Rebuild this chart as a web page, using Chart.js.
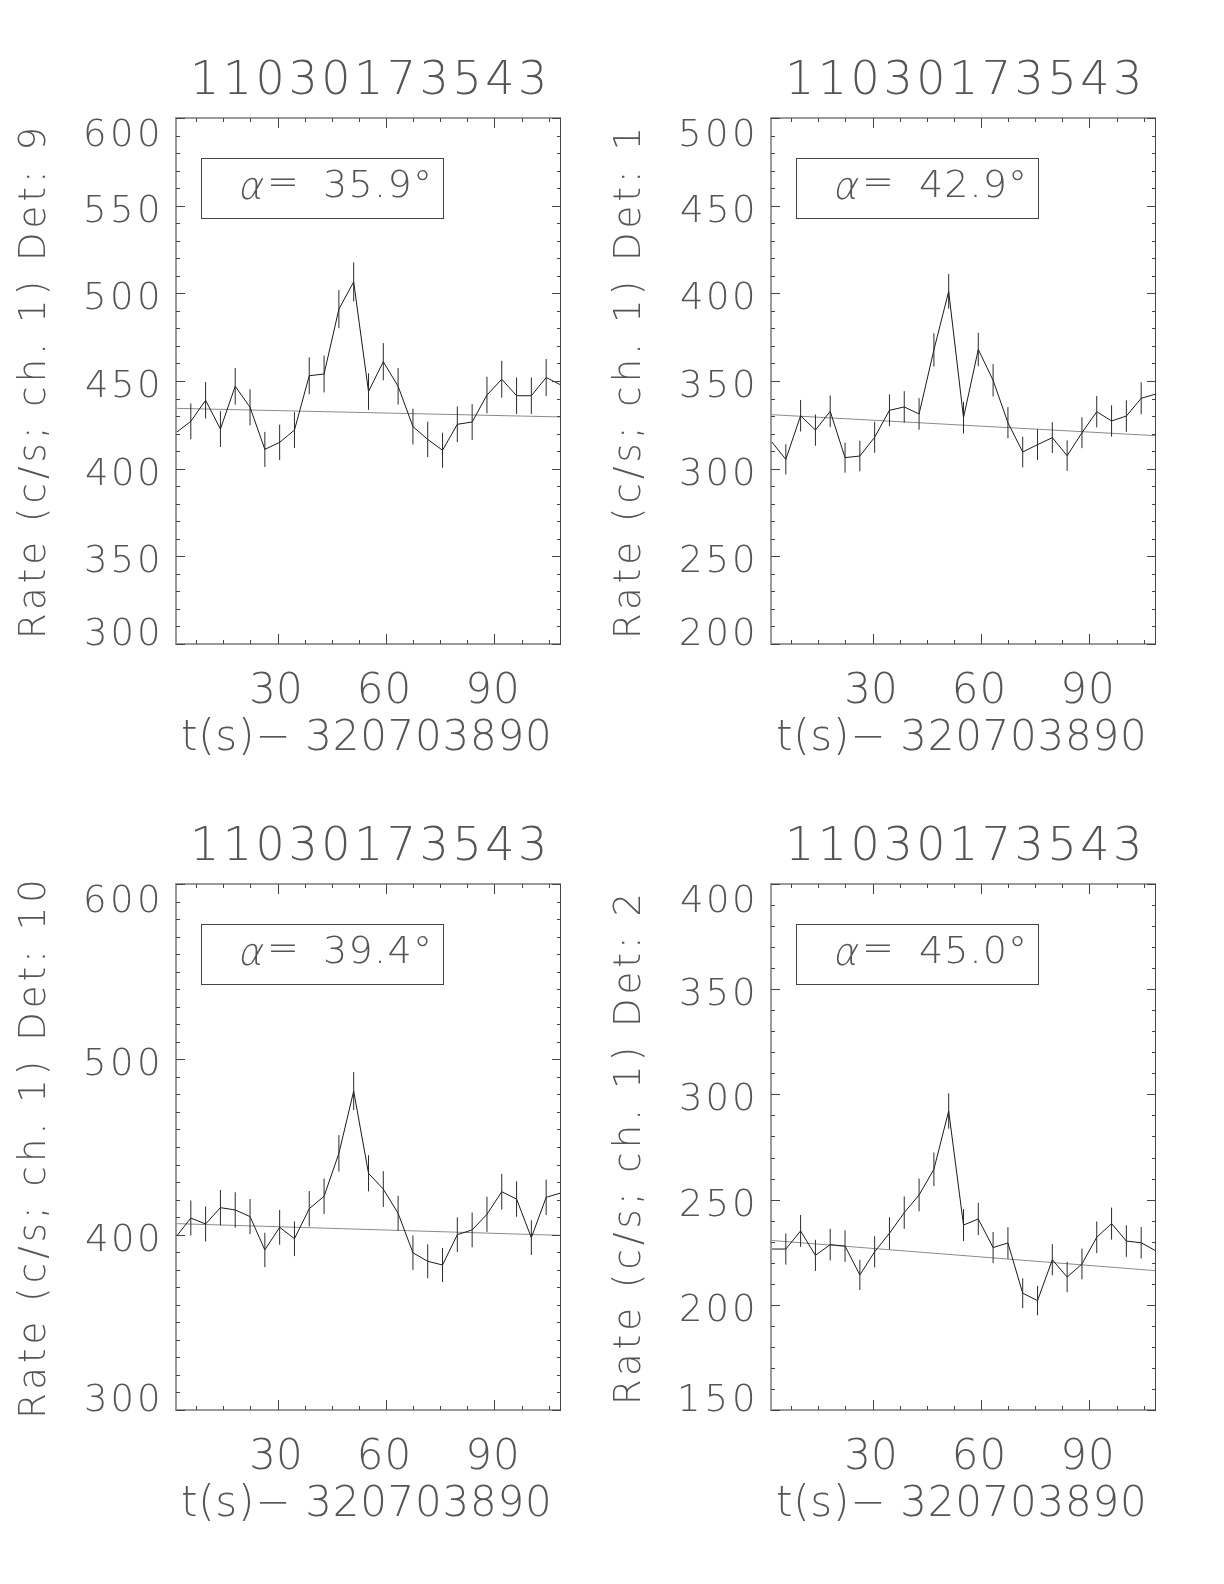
<!DOCTYPE html>
<html>
<head>
<meta charset="utf-8">
<script src="https://cdn.jsdelivr.net/npm/chart.js@4.4.1/dist/chart.umd.min.js"></script>
<style>
  html, body { margin: 0; padding: 0; background: #fff; }
  #wrap { position: relative; width: 1224px; height: 1584px; overflow: hidden; }
  .panel { position: absolute; width: 600px; height: 766px; }
</style>
</head>
<body>
<div id="wrap">
  <div class="panel" style="left:0;top:0"><canvas id="det9" width="600" height="766"></canvas></div>
  <div class="panel" style="left:595px;top:0"><canvas id="det1" width="600" height="766"></canvas></div>
  <div class="panel" style="left:0;top:766px"><canvas id="det10" width="600" height="766"></canvas></div>
  <div class="panel" style="left:595px;top:766px"><canvas id="det2" width="600" height="766"></canvas></div>
</div>
<script>
// time bins, seconds after 320703890
const times = [1.90, 6.00, 10.09, 14.19, 18.28, 22.38, 26.48, 30.57, 34.67, 38.76,
               42.86, 46.96, 51.05, 55.15, 59.24, 63.34, 67.44, 71.53, 75.63, 79.72,
               83.82, 87.92, 92.01, 96.11, 100.20, 104.30, 108.40];
const xTickLabels = [30, 60, 90];

// Det 9
const det9Rate = [420.5, 427.0, 439.0, 422.6, 447.0, 435.0, 411.0, 415.0, 422.0, 453.0,
                  454.0, 491.0, 506.5, 444.0, 461.0, 447.0, 424.0, 416.7, 410.5, 425.3,
                  426.6, 442.0, 451.0, 441.6, 441.6, 452.0, 447.7];
const det9Err = [10.1, 10.2, 10.4, 10.2, 10.4, 10.3, 10.0, 10.1, 10.2, 10.5,
                 10.5, 10.9, 11.1, 10.4, 10.6, 10.4, 10.2, 10.1, 10.0, 10.2,
                 10.2, 10.4, 10.5, 10.4, 10.4, 10.5, 10.5];
const det9Bkg = [434.4, 429.5];
const det9YTicks = [300, 350, 400, 450, 500, 550, 600];

// Det 1
const det1Rate = [315.8, 305.3, 330.2, 322.0, 332.7, 306.3, 307.2, 317.9, 333.3, 335.2,
                  331.2, 367.7, 401.1, 329.1, 368.0, 350.4, 326.2, 309.5, 313.7, 317.7,
                  307.4, 320.5, 332.5, 327.2, 330.0, 340.1, 342.6];
const det1Err = [8.8, 8.6, 9.0, 8.9, 9.0, 8.6, 8.7, 8.8, 9.0, 9.0,
                 9.0, 9.5, 9.9, 9.0, 9.5, 9.2, 8.9, 8.7, 8.8, 8.8,
                 8.7, 8.8, 9.0, 8.9, 9.0, 9.1, 9.1];
const det1Bkg = [330.8, 318.8];
const det1YTicks = [200, 250, 300, 350, 400, 450, 500];

// Det 10
const det10Rate = [398.7, 409.5, 406.1, 415.4, 414.1, 410.3, 391.3, 404.2, 397.7, 414.8,
                   421.9, 446.4, 481.9, 435.0, 426.0, 412.2, 389.7, 384.8, 382.7, 400.0,
                   402.7, 411.6, 424.5, 420.3, 398.3, 421.3, 423.8];
const det10Err = [9.9, 10.0, 10.0, 10.1, 10.1, 10.0, 9.8, 9.9, 9.9, 10.1,
                  10.1, 10.4, 10.8, 10.3, 10.2, 10.0, 9.8, 9.7, 9.7, 9.9,
                  9.9, 10.0, 10.2, 10.1, 9.9, 10.1, 10.2];
const det10Bkg = [406.3, 399.6];
const det10YTicks = [300, 400, 500, 600];

// Det 2
const det2Rate = [226.5, 226.5, 235.1, 223.5, 228.6, 227.9, 214.2, 225.2, 234.0, 243.8,
                  252.2, 264.4, 292.1, 237.9, 240.8, 227.2, 229.4, 205.5, 202.0, 221.4,
                  213.2, 219.4, 232.1, 238.6, 230.3, 229.5, 225.6];
const det2Err = [7.4, 7.4, 7.6, 7.4, 7.5, 7.5, 7.2, 7.4, 7.6, 7.7,
                 7.8, 8.0, 8.4, 7.6, 7.7, 7.4, 7.5, 7.1, 7.0, 7.4,
                 7.2, 7.3, 7.5, 7.6, 7.5, 7.5, 7.4];
const det2Bkg = [230.6, 216.2];
const det2YTicks = [150, 200, 250, 300, 350, 400];

const title = '11030173543';
const xTitle = 't(s)\u2212 320703890';
const FONT = '"DejaVu Sans", sans-serif';
const TEXT = '#555';

// draw text so that its ink starts at x and spans the given width
function spreadText(ctx, text, x, y, width) {
  ctx.letterSpacing = '0px';
  const m = ctx.measureText(text);
  const ink = m.actualBoundingBoxLeft + m.actualBoundingBoxRight;
  const n = [...text].length;
  ctx.letterSpacing = (n > 1 ? (width - ink) / (n - 1) : 0) + 'px';
  ctx.textAlign = 'left';
  ctx.fillText(text, x + m.actualBoundingBoxLeft, y);
  ctx.letterSpacing = '0px';
}

function makeAxesPlugin(p) {
  return {
    id: 'idlAxes',
    afterDatasetsDraw(chart) {
      const ctx = chart.ctx;
      const a = chart.chartArea;
      const xs = chart.scales.x, ys = chart.scales.y;

      // error bars
      ctx.save();
      ctx.beginPath();
      ctx.rect(a.left, a.top, a.right - a.left, a.bottom - a.top);
      ctx.clip();
      ctx.strokeStyle = '#2a2a2a';
      ctx.lineWidth = 1;
      times.forEach((t, i) => {
        const x = xs.getPixelForValue(t);
        ctx.beginPath();
        ctx.moveTo(x, ys.getPixelForValue(p.rate[i] - p.err[i]));
        ctx.lineTo(x, ys.getPixelForValue(p.rate[i] + p.err[i]));
        ctx.stroke();
      });
      ctx.restore();

      // frame
      ctx.save();
      ctx.strokeStyle = '#9a9a9a';
      ctx.lineWidth = 2;
      ctx.beginPath();
      ctx.moveTo(a.right, a.top); ctx.lineTo(a.left, a.top);
      ctx.lineTo(a.left, a.bottom); ctx.lineTo(a.right, a.bottom);
      ctx.stroke();
      ctx.strokeStyle = '#444';
      ctx.lineWidth = 1;
      ctx.beginPath();
      ctx.moveTo(a.right - 0.5, a.top); ctx.lineTo(a.right - 0.5, a.bottom);
      ctx.stroke();

      // y ticks, inward on both sides
      ctx.beginPath();
      for (let v = ys.min; v <= ys.max + 1e-6; v += p.yMinor) {
        const y = Math.round(ys.getPixelForValue(v)) + 0.5;
        const len = p.yTicks.includes(Math.round(v)) ? 9 : 4;
        ctx.moveTo(a.left, y); ctx.lineTo(a.left + len, y);
        ctx.moveTo(a.right, y); ctx.lineTo(a.right - len, y);
      }
      // x ticks, every 7.5 s, major at labels
      for (let v = 7.5; v < xs.max; v += 7.5) {
        const x = Math.round(xs.getPixelForValue(v)) + 0.5;
        const len = xTickLabels.includes(Math.round(v)) ? 10 : 4;
        ctx.moveTo(x, a.bottom); ctx.lineTo(x, a.bottom - len);
        ctx.moveTo(x, a.top); ctx.lineTo(x, a.top + len);
      }
      ctx.stroke();
      ctx.restore();
    },
    afterDraw(chart) {
      const ctx = chart.ctx;
      const a = chart.chartArea;
      const xs = chart.scales.x, ys = chart.scales.y;
      ctx.save();
      ctx.fillStyle = TEXT;
      ctx.textBaseline = 'alphabetic';

      // title
      ctx.font = '200 46px ' + FONT;
      spreadText(ctx, title, 195, 94, 348);

      // y tick labels
      ctx.font = '200 37px ' + FONT;
      p.yTicks.forEach(v => {
        let base = ys.getPixelForValue(v) + 2.5 + 13.5;
        base = Math.max(base, a.top + 28);
        base = Math.min(base, a.bottom + 1);
        const s = String(v);
        const w = 24 * s.length;
        spreadText(ctx, s, 158 - w, base, w);
      });

      // x tick labels
      ctx.font = '200 42px ' + FONT;
      xTickLabels.forEach(v => {
        const x = xs.getPixelForValue(v) - 2;
        spreadText(ctx, String(v), x - 23.3, 703, 46.7);
      });

      // x title
      spreadText(ctx, xTitle, 183, 750, 365);

      // y title, rotated
      ctx.font = '200 37px ' + FONT;
      const base = 'Rate (c/s; ch. 1) Det: 9';
      ctx.letterSpacing = '0px';
      const bw = ctx.measureText(base).width;
      const ls = (512 - bw) / ([...base].length - 1);
      const s = 'Rate (c/s; ch. 1) Det: ' + p.det;
      const sw = ctx.measureText(s).width + ls * ([...s].length - 1);
      ctx.translate(45, (a.top + a.bottom) / 2 + 2);
      ctx.rotate(-Math.PI / 2);
      ctx.letterSpacing = ls + 'px';
      ctx.textAlign = 'left';
      ctx.fillText(s, -sw / 2, 0);
      ctx.setTransform(1, 0, 0, 1, 0, 0);
      ctx.letterSpacing = '0px';

      // alpha box
      ctx.strokeStyle = '#444';
      ctx.lineWidth = 1;
      ctx.strokeRect(201.5, 158.5, 242, 60);
      ctx.font = '200 38px ' + FONT;
      ctx.save();
      ctx.translate(240, 199);
      ctx.transform(1, 0, -0.22, 1, 0, 0);
      spreadText(ctx, '\u03b1', 0, 0, 21);
      ctx.restore();
      spreadText(ctx, '=', 271, 194, 24);
      spreadText(ctx, p.alpha + '\u00b0', 325, 197, 103);
      ctx.restore();
    }
  };
}

function drawPanel(id, p) {
  new Chart(document.getElementById(id), {
    type: 'line',
    data: {
      datasets: [{
        data: times.map((t, i) => ({ x: t, y: p.rate[i] })),
        borderColor: '#1a1a1a',
        borderWidth: 1,
        pointRadius: 0,
        tension: 0
      }, {
        data: [{ x: times[0], y: p.bkg[0] }, { x: times[times.length - 1], y: p.bkg[1] }],
        borderColor: '#8a8a8a',
        borderWidth: 1,
        pointRadius: 0
      }]
    },
    options: {
      responsive: false,
      animation: false,
      devicePixelRatio: 1,
      layout: { padding: { left: 176, right: 39, top: 118, bottom: 122 } },
      plugins: { legend: { display: false }, tooltip: { enabled: false } },
      scales: {
        x: { type: 'linear', min: times[0], max: times[times.length - 1], display: false },
        y: { type: 'linear', min: p.yTicks[0], max: p.yTicks[p.yTicks.length - 1], display: false }
      }
    },
    plugins: [makeAxesPlugin(p)]
  });
}

drawPanel('det9', { det: '9', alpha: '35.9', rate: det9Rate, err: det9Err, bkg: det9Bkg, yTicks: det9YTicks, yMinor: 10 });
drawPanel('det1', { det: '1', alpha: '42.9', rate: det1Rate, err: det1Err, bkg: det1Bkg, yTicks: det1YTicks, yMinor: 10 });
drawPanel('det10', { det: '10', alpha: '39.4', rate: det10Rate, err: det10Err, bkg: det10Bkg, yTicks: det10YTicks, yMinor: 10 });
drawPanel('det2', { det: '2', alpha: '45.0', rate: det2Rate, err: det2Err, bkg: det2Bkg, yTicks: det2YTicks, yMinor: 10 });
</script>
</body>
</html>
